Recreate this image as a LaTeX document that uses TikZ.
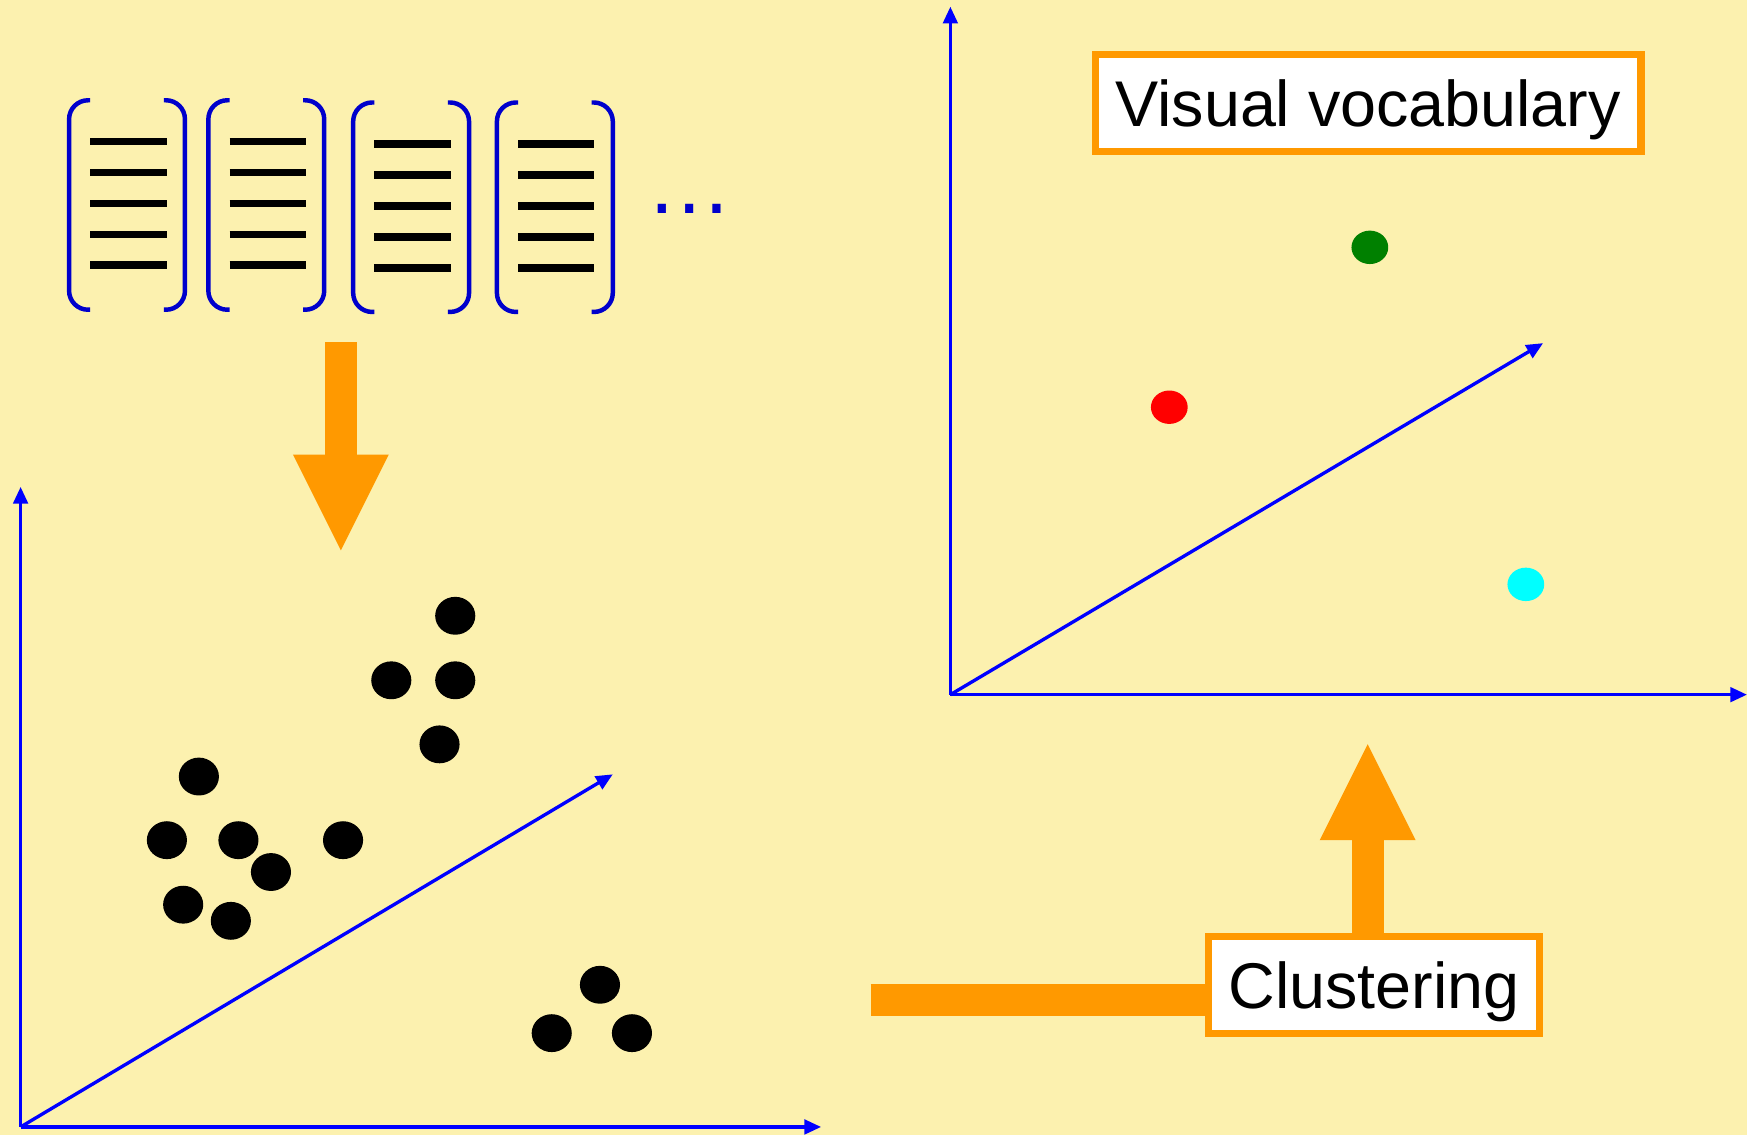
\documentclass[tikz,border=0pt]{standalone}
\usepackage{fontspec}
\setmainfont{Liberation Sans}
\usetikzlibrary{arrows.meta}
\definecolor{bgyellow}{RGB}{252,241,175}
\definecolor{boxorange}{RGB}{255,153,0}
\definecolor{bracketblue}{RGB}{0,0,204}
\definecolor{vocgreen}{RGB}{0,128,0}
\definecolor{vocred}{RGB}{255,0,0}
\definecolor{voccyan}{RGB}{0,255,255}

\begin{document}
\begin{tikzpicture}[x=0.01cm, y=-0.01cm,
    axis/.style={blue, line width=0.03cm, -{Triangle[length=0.15cm, width=0.13cm]}},
    fatarrow/.style={boxorange, line width=0.285cm, -{Triangle[length=0.86cm, width=0.86cm, line width=0pt]}},
    fatbar/.style={boxorange, line width=0.28cm},
    labelbox/.style={draw=boxorange, fill=white, line width=0.065cm, inner sep=0pt,
        text depth=0pt, font=\fontsize{16.5}{20}\selectfont},
    bracket/.style={bracketblue, line width=0.04cm, rounded corners=0.17cm}]
    % Background
    \fill [bgyellow] (0,0) rectangle (1568,1019);
    \useasboundingbox (0,0) rectangle (1568,1019);

    % Descriptor vectors
    \foreach \x/\y in {60/88, 185/88, 315/90, 444/90} {
        \draw [bracket] (\x+21,\y+2) -- (\x+2,\y+2) -- (\x+2,\y+190) -- (\x+21,\y+190);
        \draw [bracket] (\x+87,\y+2) -- (\x+106,\y+2) -- (\x+106,\y+190) -- (\x+87,\y+190);
        \foreach \k in {0,...,4}
            \draw [line width=0.07cm] (\x+21,\y+39+27.8*\k) -- (\x+89.5,\y+39+27.8*\k);
    }
    \node [font=\fontsize{22}{26}\selectfont, text=bracketblue, inner sep=0pt, anchor=base] (more) at (618.5,192) {…};

    % Arrow down to the feature space
    \coordinate (downstart) at (306,307);
    \coordinate (downtip) at (306,494);
    \draw [fatarrow] (downstart) -- (downtip);

    % Feature space
    \coordinate (lo) at (18.5,1011.5);
    \draw [axis] (lo) -- (18.5,437);
    \draw [axis] (lo) -- (737,1011.5);
    \draw [axis] (lo) -- (550,695);
    \foreach \x/\y in {408.6/552.7, 351.2/610.6, 408.6/610.6, 394.5/668.1,
                       178.5/697, 149.8/754.1, 214/754.1, 307.9/754.1, 243.2/782.7,
                       164.4/812, 207.2/826.5, 538.5/883.9, 495.2/927.3, 567.2/927.3}
        \fill (\x,\y) circle [x radius=18, y radius=17];

    % Vocabulary space
    \coordinate (ro) at (853,623.5);
    \draw [axis] (ro) -- (853,6);
    \draw [axis] (ro) -- (1568,623.5);
    \draw [axis] (ro) -- (1385,308);
    \fill [vocgreen] (1229.5,222) circle [x radius=16.5, y radius=15];
    \fill [vocred] (1049.5,365.5) circle [x radius=16.5, y radius=15];
    \fill [voccyan] (1369.5,524.5) circle [x radius=16.5, y radius=15];
    \node [labelbox, minimum width=4.895cm, minimum height=0.874cm] (vocab) at (1228,92.5) {Visual vocabulary};

    % Clustering
    \node [labelbox, minimum width=2.97cm, minimum height=0.87cm] (clust) at (1233.3,884.3) {Clustering};
    \coordinate (barstart) at (781.5,897.5);
    \coordinate (uptip) at (1227.5,668);
    \draw [fatbar] (barstart) -- (barstart -| clust.west);
    \draw [fatarrow] (uptip |- clust.north) -- (uptip);
\end{tikzpicture}
\end{document}
